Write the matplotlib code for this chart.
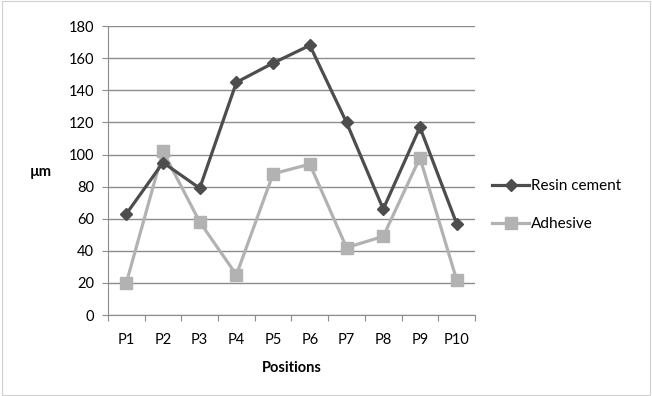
import matplotlib

matplotlib.use("Agg")
import matplotlib.pyplot as plt
from matplotlib.patches import Rectangle


positions = ["P1", "P2", "P3", "P4", "P5", "P6", "P7", "P8", "P9", "P10"]
resin_cement = [63, 95, 79, 145, 157, 168, 120, 66, 117, 57]
adhesive = [20, 102, 58, 25, 88, 94, 42, 49, 98, 22]
y_ticks = [0, 20, 40, 60, 80, 100, 120, 140, 160, 180]

plt.rcParams["font.family"] = ["Lato", "DejaVu Sans"]

fig = plt.figure(figsize=(6.52, 3.96), dpi=100)
fig.patches.append(Rectangle((0.003, 0.003), 0.994, 0.994, transform=fig.transFigure,
                             fill=False, edgecolor="#d0d0d0", linewidth=0.8))
ax = fig.add_axes([0.1656, 0.2045, 0.5629, 0.7295])

x = list(range(len(positions)))
ax.plot(x, resin_cement, color="#4d4d4d", linewidth=2.3, marker="D", markersize=6,
        label="Resin cement", zorder=3)
ax.plot(x, adhesive, color="#b2b2b2", linewidth=2.3, marker="s", markersize=8,
        label="Adhesive", zorder=2)

ax.set_xlim(-0.5, len(positions) - 0.5)
ax.set_ylim(0, 180)
ax.set_yticks(y_ticks)
ax.set_xticks([i - 0.5 for i in range(len(positions) + 1)])
ax.set_xticklabels([])
ax.set_xticks(x, minor=True)
ax.set_xticklabels(positions, minor=True)
ax.tick_params(axis="x", which="minor", length=0, pad=13, labelsize=10.5)
ax.tick_params(axis="x", which="major", length=4, color="#8c8c8c", direction="out")
ax.tick_params(axis="y", length=4, color="#8c8c8c", labelsize=10.5, pad=6)

ax.grid(axis="y", color="#8c8c8c", linewidth=1.0)
ax.set_axisbelow(True)
for side in ["top", "right"]:
    ax.spines[side].set_visible(False)
for side in ["left", "bottom"]:
    ax.spines[side].set_color("#8c8c8c")

ax.set_xlabel("Positions", fontweight="bold", fontsize=10.5, labelpad=10)
fig.text(0.062, 0.565, "µm", fontweight="bold", fontsize=10.5, ha="center", va="center")

ax.legend(loc="center left", bbox_to_anchor=(1.01, 0.38), frameon=False, fontsize=11,
          handlelength=2.4, labelspacing=1.6, handletextpad=0.1)

fig.savefig("out.png", dpi=100)
